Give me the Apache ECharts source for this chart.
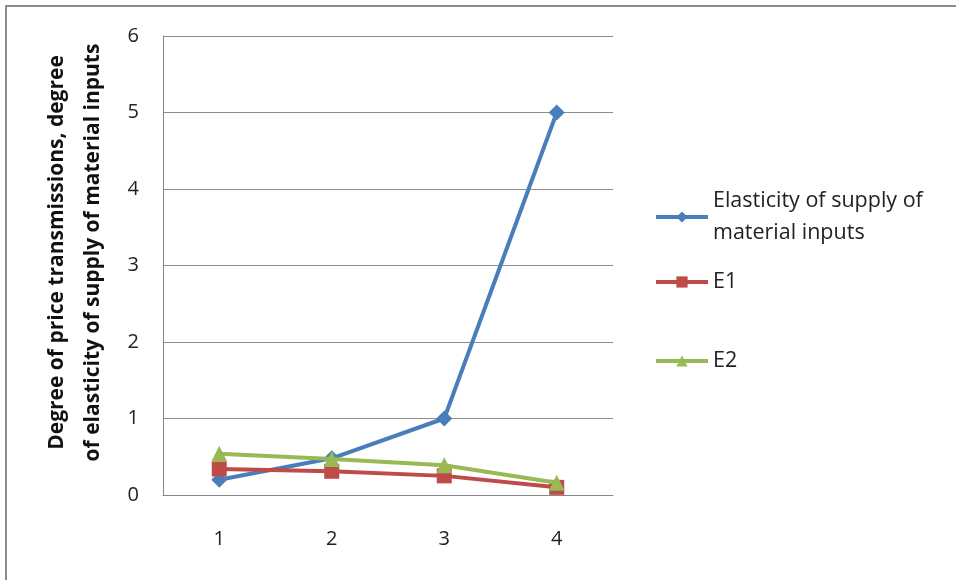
<!DOCTYPE html>
<html><head><meta charset="utf-8">
<script src="https://cdn.jsdelivr.net/npm/echarts@6/dist/echarts.min.js"></script>
<style>
html,body{margin:0;padding:0;background:#fff;}
#frame{position:absolute;left:5px;top:5px;width:1000px;height:700px;border-left:2px solid #8c8c8c;border-top:2px solid #8c8c8c;}
#chart{position:absolute;left:0;top:0;width:956px;height:580px;}
</style></head>
<body>
<div id="frame"></div>
<div id="chart"></div>
<script>
var categories = ['1', '2', '3', '4'];
var elasticity = [0.2, 0.48, 1.0, 5.0];
var e1 = [0.34, 0.31, 0.25, 0.1];
var e2 = [0.54, 0.47, 0.39, 0.16];
var seriesNames = ['Elasticity of supply of\nmaterial inputs', 'E1', 'E2'];
var yTitle = 'Degree of price transmissions, degree\nof elasticity of supply of material inputs';

var font = '"Open Sans", Lato, sans-serif';
var chart = echarts.init(document.getElementById('chart'));
function legendAt(name, top) {
  return {
    orient: 'vertical', left: 649, top: top, itemWidth: 52, itemHeight: 14, itemGap: 6,
    lineStyle: {width: 4},
    data: [name], textStyle: {fontFamily: font, fontSize: 21.5, color: '#222', lineHeight: 32}
  };
}
chart.setOption({
  animation: false,
  grid: {left: 163, right: 343, top: 36, bottom: 85, containLabel: false},
  legend: [legendAt(seriesNames[0], 180), legendAt(seriesNames[1], 261), legendAt(seriesNames[2], 340)],
  xAxis: {
    type: 'category', data: categories, boundaryGap: true,
    axisLine: {lineStyle: {color: '#888', width: 1}},
    axisTick: {show: false},
    axisLabel: {fontFamily: font, fontSize: 20, color: '#222', margin: 34}
  },
  yAxis: {
    type: 'value', min: 0, max: 6, interval: 1,
    name: yTitle, nameLocation: 'middle', nameGap: 52, nameRotate: 90,
    nameTextStyle: {fontFamily: font, fontSize: 21, fontWeight: 'bold', color: '#111', lineHeight: 36, padding: [0, 0, 0, 26]},
    axisLine: {show: true, lineStyle: {color: '#888', width: 1}},
    axisTick: {show: false},
    splitLine: {lineStyle: {color: '#8c8c8c', width: 1}},
    axisLabel: {fontFamily: font, fontSize: 20, color: '#222', margin: 24}
  },
  series: [
    {name: seriesNames[0], type: 'line', data: elasticity, symbol: 'diamond', symbolSize: 16,
     lineStyle: {width: 4, color: '#4A7EBB'}, itemStyle: {color: '#4A7EBB'}, z: 2},
    {name: seriesNames[1], type: 'line', data: e1, symbol: 'rect', symbolSize: 15,
     lineStyle: {width: 4, color: '#BE4B48'}, itemStyle: {color: '#BE4B48'}, z: 3},
    {name: seriesNames[2], type: 'line', data: e2, symbol: 'triangle', symbolSize: 16,
     lineStyle: {width: 4, color: '#98B954'}, itemStyle: {color: '#98B954'}, z: 4}
  ]
});
</script>
</body></html>
